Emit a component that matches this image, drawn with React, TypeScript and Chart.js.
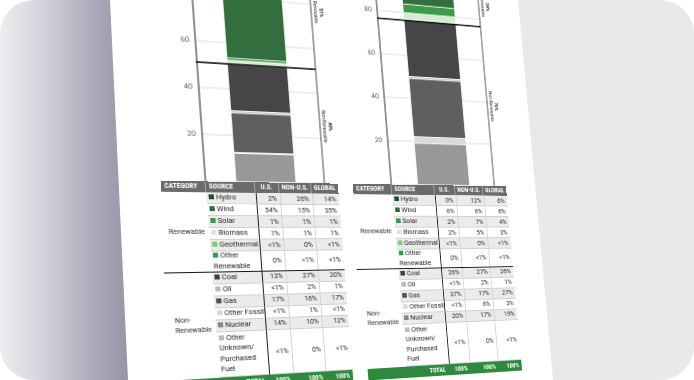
import React, { useEffect, useRef } from 'react';
import { Chart, registerables } from 'chart.js';
Chart.register(...registerables);

// ---------- data ----------
const SOURCES = ['Hydro', 'Wind', 'Solar', 'Biomass', 'Geothermal', 'Other Renewable', 'Coal', 'Oil', 'Gas', 'Other Fossil', 'Nuclear', 'Other Unknown/ Purchased Fuel'];
const SOURCE_LINES = ['Hydro', 'Wind', 'Solar', 'Biomass', 'Geothermal', 'Other\nRenewable', 'Coal', 'Oil', 'Gas', 'Other Fossil', 'Nuclear', 'Other\nUnknown/\nPurchased\nFuel'];
const CATEGORIES = ['Renewable', 'Non-\nRenewable'];
const RENEWABLE_COUNT = 6;
const COLUMN_HEADERS = ['CATEGORY', 'SOURCE', 'U.S.', 'NON-U.S.', 'GLOBAL'];
const TOTAL_LABEL = 'TOTAL';
const TOTALS = ['100%', '100%', '100%'];

// left chart (global mix of the first table)
const LEFT_CHART_VALUES = [14, 35, 1, 1, 0.4, 0.4, 20, 1, 17, 0.4, 12, 0.4];
const LEFT_SHARE_LABELS = ['51%', '49%'];
const LEFT_US = ['2%', '54%', '1%', '1%', '<1%', '0%', '13%', '<1%', '17%', '<1%', '14%', '<1%'];
const LEFT_NON_US = ['26%', '15%', '1%', '1%', '0%', '<1%', '27%', '2%', '16%', '1%', '10%', '0%'];
const LEFT_GLOBAL = ['14%', '35%', '1%', '1%', '<1%', '<1%', '20%', '1%', '17%', '<1%', '12%', '<1%'];

// right chart (global mix of the second table)
const RIGHT_CHART_VALUES = [6, 6, 4, 3, 0.4, 0.4, 26, 1, 27, 3, 19, 0.4];
const RIGHT_SHARE_LABELS = ['24%', '76%'];
const RIGHT_US = ['0%', '6%', '2%', '2%', '<1%', '0%', '26%', '<1%', '37%', '<1%', '20%', '<1%'];
const RIGHT_NON_US = ['12%', '6%', '7%', '5%', '0%', '<1%', '27%', '2%', '17%', '6%', '17%', '0%'];
const RIGHT_GLOBAL = ['6%', '6%', '4%', '3%', '<1%', '<1%', '26%', '1%', '27%', '3%', '19%', '<1%'];

const Y_MAX = 100;
const Y_STEP = 20;

// ---------- styles ----------
const BAR_COLORS = ['#24552e', '#336f3e', '#3c9a4b', '#d4ead1', '#8ccc88', '#35a24a', '#464648', '#c9c9c9', '#5f5f62', '#dadada', '#98989b', '#bdbdbd'];
const SWATCH_COLORS = ['#1f4f29', '#2f6b3a', '#3b9a4a', '#d6ebd3', '#84c983', '#2f9e45', '#3f3f41', '#b8b8b8', '#505052', '#d9d9d9', '#858587', '#bcbcbc'];

const PAGE_W = 443;
const PAGE_H = 900;
const BLOCK_X = [44, 235];
const HEADER_Y = 400;
const TABLE_W = 175;
const COL_W = [42, 48, 24, 33, 28];
const AXIS_W = 42;
const PAD_RIGHT = 14;
const PAD_TB = 6;
const PLOT_H = 240;
const CANVAS_H = PLOT_H + PAD_TB * 2;
const HEAD_H = 11;
const ROW_H = [12, 12, 12, 12, 12, 20.5, 12, 12, 12, 12, 12, 45];
const FONT = "Roboto, 'Liberation Sans', Arial, sans-serif";
const NARROW = "'Liberation Sans Narrow', 'Roboto Condensed', Roboto, Arial, sans-serif";
const TEXT = '#222';

// ---------- homography (flat page -> photo), least squares ----------
function solve(M: number[][], r: number[]) {
  const A = M.map((row) => row.slice());
  const b = r.slice();
  const n = b.length;
  for (let c = 0; c < n; c++) {
    let p = c;
    for (let k = c + 1; k < n; k++) if (Math.abs(A[k][c]) > Math.abs(A[p][c])) p = k;
    [A[c], A[p]] = [A[p], A[c]];
    [b[c], b[p]] = [b[p], b[c]];
    for (let k = 0; k < n; k++) {
      if (k === c) continue;
      const f = A[k][c] / A[c][c];
      for (let j = c; j < n; j++) A[k][j] -= f * A[c][j];
      b[k] -= f * b[c];
    }
  }
  return b.map((v, i) => v / A[i][i]);
}

function homographyLSQ(pairs: number[][][]) {
  const S = 500;
  const M = Array.from({ length: 8 }, () => new Array(8).fill(0));
  const r = new Array(8).fill(0);
  const add = (row: number[], val: number) => {
    for (let i = 0; i < 8; i++) {
      for (let j = 0; j < 8; j++) M[i][j] += row[i] * row[j];
      r[i] += row[i] * val;
    }
  };
  pairs.forEach(([[X, Y], [U, V]]) => {
    const x = X / S, y = Y / S, u = U / S, v = V / S;
    add([x, y, 1, 0, 0, 0, -x * u, -y * u], u);
    add([0, 0, 0, x, y, 1, -x * v, -y * v], v);
  });
  const g = solve(M, r);
  const h = [g[0], g[1], g[2] * S, g[3], g[4], g[5] * S, g[6] / S, g[7] / S];
  return `matrix3d(${h[0]},${h[3]},0,${h[6]},${h[1]},${h[4]},0,${h[7]},0,0,1,0,${h[2]},${h[5]},0,1)`;
}

const unit = PLOT_H / Y_MAX;
const BODY_H = ROW_H.reduce((a, b) => a + b, 0);
const TABLE_H = HEAD_H + BODY_H;
const COL_X = COL_W.reduce((acc: number[], w) => [...acc, acc[acc.length - 1] + w], [0]);
const ROW_Y = ROW_H.reduce((acc: number[], h) => [...acc, acc[acc.length - 1] + h], [HEAD_H]);
const DIVIDER_Y = HEADER_Y + ROW_Y[RENEWABLE_COUNT];
const TOTAL_Y = HEADER_Y + TABLE_H;

// reference landmarks: [flat page point, photo point]
const PAGE_TRANSFORM = homographyLSQ([
  [[BLOCK_X[0] + AXIS_W, HEADER_Y - 60 * unit], [195.5, 40]],
  [[BLOCK_X[1] + TABLE_W - PAD_RIGHT, HEADER_Y - 60 * unit], [483, 61]],
  [[BLOCK_X[0] + AXIS_W, HEADER_Y - 20 * unit], [201, 133]],
  [[BLOCK_X[1] + AXIS_W, HEADER_Y - 20 * unit], [388, 140]],
  [[BLOCK_X[0], HEADER_Y], [162.5, 182]],
  [[BLOCK_X[1], HEADER_Y], [353, 185]],
  [[BLOCK_X[1] + TABLE_W, HEADER_Y], [506, 186.5]],
  [[BLOCK_X[0] - 3, DIVIDER_Y], [163.3, 273.5]],
  [[BLOCK_X[1], TOTAL_Y], [366.7, 367.7]],
  [[BLOCK_X[1] + TABLE_W, TOTAL_Y], [521.7, 359.5]],
]);

function StackChart({ values, shares }: { values: number[]; shares: string[] }) {
  const ref = useRef<HTMLCanvasElement | null>(null);
  useEffect(() => {
    if (!ref.current) return;
    const ren = values.slice(0, RENEWABLE_COUNT).reduce((a, b) => a + b, 0);
    const non = values.slice(RENEWABLE_COUNT).reduce((a, b) => a + b, 0);
    const order = SOURCES.map((_, i) => i).reverse();
    const overlay = {
      id: 'overlay',
      afterDatasetsDraw(chart: any) {
        const { ctx, chartArea, scales } = chart;
        const { left, right, top, bottom } = chartArea;
        const y = scales.y;
        ctx.save();
        ctx.strokeStyle = '#333';
        ctx.lineWidth = 0.9;
        ctx.beginPath();
        ctx.moveTo(right, top);
        ctx.lineTo(right, bottom);
        ctx.stroke();
        const yd = y.getPixelForValue(non);
        ctx.strokeStyle = '#111';
        ctx.lineWidth = 1.6;
        ctx.beginPath();
        ctx.moveTo(left - 1, yd);
        ctx.lineTo(right, yd);
        ctx.stroke();
        const groups: [number, string, string][] = [
          [non + ren / 2, shares[0], 'Renewable'],
          [non / 2, shares[1], 'Non-Renewable'],
        ];
        groups.forEach(([v, pct, name]) => {
          ctx.save();
          ctx.translate(right + 7, y.getPixelForValue(v));
          ctx.rotate(Math.PI / 2);
          ctx.textAlign = 'center';
          ctx.textBaseline = 'middle';
          ctx.fillStyle = '#222';
          ctx.font = `bold 5px ${FONT}`;
          ctx.fillText(pct, 0, -3);
          ctx.font = `5px ${FONT}`;
          ctx.fillText(name, 0, 3);
          ctx.restore();
        });
        ctx.restore();
      },
    };
    const chart = new Chart(ref.current, {
      type: 'bar',
      data: {
        labels: [''],
        datasets: order.map((i) => ({
          label: SOURCES[i],
          data: [values[i]],
          backgroundColor: BAR_COLORS[i],
          borderColor: '#ffffff',
          borderWidth: { top: 0.8, bottom: 0, left: 0, right: 0 },
          borderSkipped: false,
          barPercentage: 0.5,
          categoryPercentage: 1,
        })),
      },
      options: {
        animation: false,
        responsive: false,
        devicePixelRatio: 2,
        layout: { autoPadding: false, padding: { top: PAD_TB, bottom: PAD_TB, left: 0, right: PAD_RIGHT } },
        plugins: { legend: { display: false }, tooltip: { enabled: false } },
        scales: {
          x: { display: false, stacked: true },
          y: {
            stacked: true,
            min: 0,
            max: Y_MAX,
            ticks: {
              stepSize: Y_STEP,
              color: '#555',
              padding: 6,
              font: { size: 7.2, family: FONT },
              callback: (v: any) => (v === 0 ? '' : String(v)),
            },
            grid: { color: '#d2d2d2', lineWidth: 0.8, drawTicks: false },
            border: { color: '#222', width: 1 },
            afterFit: (s: any) => {
              s.width = AXIS_W;
              s.paddingTop = 0;
              s.paddingBottom = 0;
            },
          },
        },
      } as any,
      plugins: [overlay],
    });
    return () => chart.destroy();
  }, []);
  return (
    <canvas
      ref={ref}
      width={TABLE_W}
      height={CANVAS_H}
      style={{ position: 'absolute', left: 0, top: HEADER_Y - CANVAS_H + PAD_TB, width: TABLE_W, height: CANVAS_H }}
    />
  );
}

function DataTable({ us, nonUs, global }: { us: string[]; nonUs: string[]; global: string[] }) {
  const cols = [us, nonUs, global];
  const groupH = (g: number) =>
    ROW_H.slice(g * RENEWABLE_COUNT, (g + 1) * RENEWABLE_COUNT).reduce((a, b) => a + b, 0);
  return (
    <div style={{ position: 'absolute', left: 0, top: HEADER_Y, width: TABLE_W, height: TABLE_H + 12, fontFamily: FONT }}>
      {COLUMN_HEADERS.map((h, c) => (
        <div
          key={h}
          style={{
            position: 'absolute',
            left: COL_X[c],
            top: 0,
            width: COL_W[c],
            height: HEAD_H,
            boxSizing: 'border-box',
            background: '#6b6b6d',
            color: '#fff',
            fontFamily: NARROW,
            fontWeight: 700,
            fontSize: 7,
            lineHeight: HEAD_H + 'px',
            paddingLeft: c < 2 ? 3 : 0,
            textAlign: c < 2 ? 'left' : 'center',
            borderRight: c < 4 ? '1px solid #a3a3a3' : undefined,
            whiteSpace: 'nowrap',
            overflow: 'hidden',
          }}
        >
          {h}
        </div>
      ))}
      {CATEGORIES.map((cat, g) => (
        <div
          key={cat}
          style={{
            position: 'absolute',
            left: 0,
            top: ROW_Y[g * RENEWABLE_COUNT],
            width: COL_W[0],
            height: groupH(g),
            display: 'flex',
            alignItems: 'center',
            paddingLeft: 4,
            boxSizing: 'border-box',
            fontSize: 7,
            lineHeight: '10px',
            color: '#333',
            whiteSpace: 'pre-line',
          }}
        >
          {cat}
        </div>
      ))}
      {SOURCES.map((s, i) => (
        <React.Fragment key={s}>
          <div
            style={{
              position: 'absolute',
              left: COL_X[1],
              top: ROW_Y[i],
              width: COL_W[1],
              height: ROW_H[i],
              boxSizing: 'border-box',
              background: i % 2 === 0 ? '#ebebeb' : '#fff',
              borderBottom: '1px solid #cfcfcf',
              display: 'flex',
              alignItems: 'center',
              paddingLeft: 2,
              fontSize: 7.3,
              lineHeight: '10.5px',
              color: TEXT,
              whiteSpace: 'pre',
            }}
          >
            <div>
              <span
                style={{
                  display: 'inline-block',
                  width: 5,
                  height: 5,
                  background: SWATCH_COLORS[i],
                  marginRight: 2,
                }}
              />
              {SOURCE_LINES[i]}
            </div>
          </div>
          {cols.map((col, j) => (
            <div
              key={j}
              style={{
                position: 'absolute',
                left: COL_X[2 + j],
                top: ROW_Y[i],
                width: COL_W[2 + j],
                height: ROW_H[i],
                boxSizing: 'border-box',
                background: i % 2 === 0 ? '#ebebeb' : '#fff',
                borderBottom: '1px solid #cfcfcf',
                borderLeft: j === 0 ? '1px solid #222' : '1px solid #d4d4d4',
                display: 'flex',
                alignItems: 'center',
                justifyContent: 'flex-end',
                paddingRight: 3,
                fontSize: 7,
                color: TEXT,
              }}
            >
              {col[i]}
            </div>
          ))}
        </React.Fragment>
      ))}
      <div
        style={{
          position: 'absolute',
          left: -3,
          top: ROW_Y[RENEWABLE_COUNT] - 1,
          width: TABLE_W + 3,
          height: 1.7,
          background: '#151515',
        }}
      />
      <div
        style={{
          position: 'absolute',
          left: 0,
          top: TABLE_H,
          width: TABLE_W,
          height: 12,
          background: '#2d8a3d',
        }}
      />
      <div
        style={{
          position: 'absolute',
          left: 0,
          top: TABLE_H,
          width: COL_X[2] - 4,
          height: 12,
          lineHeight: '12px',
          textAlign: 'right',
          color: '#fff',
          fontWeight: 700,
          fontSize: 7,
          fontFamily: NARROW,
        }}
      >
        {TOTAL_LABEL}
      </div>
      {TOTALS.map((t, j) => (
        <div
          key={j}
          style={{
            position: 'absolute',
            left: COL_X[2 + j],
            top: TABLE_H,
            width: COL_W[2 + j] - 3,
            height: 12,
            lineHeight: '12px',
            textAlign: 'right',
            color: '#fff',
            fontWeight: 700,
            fontSize: 7,
            fontFamily: NARROW,
          }}
        >
          {t}
        </div>
      ))}
    </div>
  );
}

export default function App() {
  return (
    <div
      style={{
        position: 'fixed',
        left: 0,
        top: 0,
        width: 694,
        height: 380,
        overflow: 'hidden',
        borderRadius: 34,
        background:
          'linear-gradient(90deg, #ededf0 0px, #d3d2d9 45px, #aaa8b7 95px, #9694a6 130px, #9694a6 300px, #e8e8e8 300px, #e9e9e9 694px)',
      }}
    >
      <div
        style={{
          position: 'absolute',
          left: 0,
          top: 0,
          width: 694,
          height: 380,
          background: '#ffffff',
          clipPath: 'polygon(110px 0px, 518px 0px, 553px 380px, 128px 380px)',
        }}
      />
      <div
        style={{
          position: 'absolute',
          left: 0,
          top: 0,
          width: PAGE_W,
          height: PAGE_H,
          transformOrigin: '0 0',
          transform: PAGE_TRANSFORM,
          fontFamily: FONT,
        }}
      >
        <div style={{ position: 'absolute', left: BLOCK_X[0], top: 0, width: TABLE_W, height: PAGE_H }}>
          <StackChart values={LEFT_CHART_VALUES} shares={LEFT_SHARE_LABELS} />
          <DataTable us={LEFT_US} nonUs={LEFT_NON_US} global={LEFT_GLOBAL} />
        </div>
        <div style={{ position: 'absolute', left: BLOCK_X[1], top: 0, width: TABLE_W, height: PAGE_H }}>
          <StackChart values={RIGHT_CHART_VALUES} shares={RIGHT_SHARE_LABELS} />
          <DataTable us={RIGHT_US} nonUs={RIGHT_NON_US} global={RIGHT_GLOBAL} />
        </div>
      </div>
    </div>
  );
}
